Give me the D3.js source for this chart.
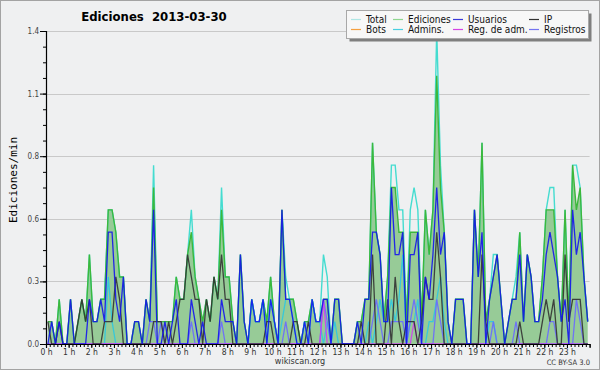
<!DOCTYPE html>
<html>
<head>
<meta charset="utf-8">
<script src="https://cdn.jsdelivr.net/npm/d3@7"></script>
<style>
  body { margin: 0; background: #fff; }
  svg { display: block; }
  text { font-family: "DejaVu Sans Condensed", "DejaVu Sans", sans-serif; font-stretch: condensed; }
</style>
</head>
<body>
<div id="chart"></div>
<script>
// edits per 10-minute slot (6 slots per hour, 0 h .. 23 h)
var ediciones = [
  1,1,0,2,0,0,  2,0,1,2,1,4,  1,1,2,2,6,6,  5,3,3,0,0,1,
  1,0,2,1,7,1,  1,1,1,1,3,2,  2,4,5,3,2,1,  2,1,3,2,6,3,
  3,1,0,4,1,0,  2,1,1,2,1,3,  1,0,6,2,2,2,  1,0,1,1,2,1,
  1,2,2,0,2,2,  0,0,0,0,1,1,  2,2,9,5,4,1,  3,7,7,5,5,1,
  5,5,5,1,6,4,  6,12,7,5,1,0, 2,2,2,0,0,6,  3,9,1,2,3,4,
  2,0,1,2,2,5,  1,4,3,1,1,3,  6,6,6,3,1,6,  1,8,6,7,3,1
];
var usuarios = [
  0,1,0,1,0,0,  2,0,0,0,0,2,  1,1,2,1,5,5,  2,1,3,0,0,1,
  1,0,2,1,6,0,  0,1,0,1,2,0,  0,0,2,1,0,1,  0,0,0,0,2,1,
  1,1,0,4,1,0,  2,1,1,2,0,2,  1,0,6,2,2,1,  0,0,1,0,2,1,
  1,2,2,0,2,2,  0,0,0,0,1,0,  2,2,5,5,4,1,  1,7,4,4,5,0,
  4,4,5,0,3,2,  4,7,4,5,1,0,  2,2,2,0,0,6,  3,5,0,2,3,4,
  2,0,1,2,2,4,  1,4,3,1,1,2,  4,5,4,3,1,2,  0,6,4,5,3,1
];
var ip = [
  1,0,0,1,0,0,  0,0,1,2,1,2,  0,0,0,1,1,1,  3,2,0,0,0,0,
  0,0,0,0,1,1,  1,0,1,0,1,2,  2,4,3,2,2,0,  2,1,3,2,4,2,
  2,0,0,0,0,0,  0,0,0,0,1,1,  0,0,0,0,0,1,  1,0,0,1,0,0,
  0,0,0,0,0,0,  0,0,0,0,0,1,  0,0,4,0,0,0,  2,0,3,1,0,1,
  1,1,0,1,3,2,  2,5,3,0,0,0,  0,0,0,0,0,0,  0,4,1,0,0,0,
  0,0,0,0,0,1,  0,0,0,0,0,1,  2,1,2,0,0,4,  1,2,2,2,0,0
];
var total = [
  1,1,0,2,0,0,  2,0,1,2,1,4,  1,1,2,2,6,6,  5,3,3,0,0,1,
  1,0,2,1,8,1,  1,1,1,1,3,2,  2,4,6,3,2,1,  2,1,3,2,7,3,
  3,1,0,4,1,0,  2,1,1,2,1,3,  1,0,6,3,2,2,  1,0,1,1,2,1,
  1,4,3,0,2,2,  0,0,0,0,1,1,  2,2,9,5,4,1,  3,8,8,6,6,1,
  6,7,6,1,6,4,  6,14,8,5,1,0, 2,2,2,0,0,6,  3,9,1,2,4,4,
  2,0,1,2,3,5,  1,4,3,1,1,3,  6,7,7,3,1,6,  1,8,8,7,3,1
];
var admins = [
  0,0,0,0,0,0,  0,0,0,0,0,0,  0,0,0,0,3,1,  0,0,0,0,0,0,
  0,0,0,0,0,0,  0,0,0,0,0,0,  0,0,0,0,0,0,  0,0,0,0,0,0,
  0,0,0,0,0,0,  2,1,1,2,0,2,  1,0,1,2,2,1,  0,0,1,0,2,1,
  1,0,1,0,1,0,  0,0,0,0,0,0,  0,1,0,1,2,1,  1,2,1,2,4,0,
  1,1,2,0,0,1,  1,2,3,1,0,0,  0,0,0,0,0,0,  0,0,0,1,1,0,
  0,0,0,0,0,0,  0,0,0,0,0,0,  0,0,0,0,0,0,  0,0,0,0,0,0
];
var regAdm = [
  0,0,0,0,0,0,  0,0,0,0,0,0,  0,0,0,0,0,0,  0,0,0,0,0,0,
  0,0,0,0,0,0,  0,0,0,0,0,0,  0,0,0,0,0,0,  0,0,0,0,0,0,
  0,0,0,0,0,0,  0,0,0,0,0,0,  0,0,0,0,0,0,  0,0,0,0,0,0,
  0,2,0,0,0,0,  0,0,0,0,0,0,  0,0,0,0,0,0,  0,0,0,0,0,0,
  0,1,0,0,0,0,  0,0,0,0,0,0,  0,0,0,0,0,0,  0,0,0,0,0,0,
  0,0,0,0,0,0,  0,0,0,0,0,0,  0,0,0,0,0,0,  0,0,0,0,0,0
];
var registros = [
  0,0,0,0,0,0,  0,0,0,0,0,0,  0,0,0,0,0,0,  0,0,0,0,0,0,
  0,0,0,1,1,0,  1,0,0,0,0,0,  0,0,1,0,0,0,  0,0,0,0,1,0,
  0,0,0,0,0,0,  0,0,0,0,0,0,  0,0,0,1,0,0,  0,0,0,0,0,0,
  0,2,1,0,0,0,  0,0,0,0,0,0,  0,0,1,2,1,0,  0,1,1,1,1,0,
  1,2,1,0,0,0,  0,2,1,0,0,0,  0,0,0,0,0,0,  0,0,0,0,1,0,
  0,0,0,0,1,0,  0,0,0,0,0,0,  0,1,1,0,0,0,  0,0,2,1,0,0
];
var hourLabels = d3.range(24).map(function(h){ return h + " h" });
var yTicks = [0, 0.28, 0.56, 0.84, 1.12, 1.4];

var legendItems = [
  {name: "Total", color: "#aee6e4"},
  {name: "Ediciones", color: "#8fd68f"},
  {name: "Usuarios", color: "#3a3ad8"},
  {name: "IP", color: "#333333"},
  {name: "Bots", color: "#f5a040"},
  {name: "Admins.", color: "#48cfe0"},
  {name: "Reg. de adm.", color: "#d444e4"},
  {name: "Registros", color: "#7474f0"}
];

var width = 600,
    height = 370;

var svg = d3.select("#chart")
  .append("svg")
  .attr("width", width)
  .attr("height", height);

svg.append("rect")
  .attr("x", 0.5).attr("y", 0.5)
  .attr("width", width - 1).attr("height", height - 1)
  .attr("fill", "#eff0f1")
  .attr("stroke", "#a3a3a3");

var x = d3.scaleLinear().domain([0, 24]).range([46, 589.6]);
var y = d3.scaleLinear().domain([0, 1.4]).range([344, 31]);

// grid
svg.append("g").selectAll("line")
  .data(yTicks.slice(1))
  .enter().append("line")
  .attr("x1", x(0)).attr("x2", x(24))
  .attr("y1", function(d){ return Math.round(y(d)) + 0.5 })
  .attr("y2", function(d){ return Math.round(y(d)) + 0.5 })
  .attr("stroke", "#c9c9c9");

function px(d, i){ return x((i + 0.5) / 6) }
function py(d){ return y(d / 10) }

var line = d3.line().x(px).y(py);
var area = d3.area().x(px).y0(y(0)).y1(py);

var plot = svg.append("g");

plot.append("path")
  .attr("d", area(ediciones))
  .attr("fill", "#97cb97");

plot.append("path")
  .attr("d", line(total))
  .attr("fill", "none")
  .attr("stroke", "#44dcd0")
  .attr("stroke-width", 1.4);

plot.append("path")
  .attr("d", line(ediciones))
  .attr("fill", "none")
  .attr("stroke", "#3cb83c")
  .attr("stroke-width", 1.4);

var series = [
  {data: admins, color: "#2ec8e0"},
  {data: registros, color: "#6a6aff"},
  {data: regAdm, color: "#d040f0"},
  {data: ip, color: "#333333"},
  {data: usuarios, color: "#1414ee"}
];

plot.selectAll(".serie")
  .data(series)
  .enter().append("path")
  .attr("class", "serie")
  .attr("d", function(s){ return line(s.data) })
  .attr("fill", "none")
  .attr("stroke", function(s){ return s.color })
  .attr("stroke-width", 1.3)
  .attr("stroke-opacity", 0.9);

// axes
var yAxis = svg.append("g")
  .attr("transform", "translate(" + x(0) + ",0)")
  .call(d3.axisLeft(y).tickValues(yTicks).tickFormat(d3.format(".1f")).tickSize(6).tickPadding(1));
svg.append("g")
  .attr("transform", "translate(" + x(0) + ",0)")
  .call(d3.axisLeft(y).tickValues(d3.range(0, 1.41, 0.07)).tickFormat("").tickSize(3))
  .select(".domain").remove();

var xAxis = svg.append("g")
  .attr("transform", "translate(0," + y(0) + ")")
  .call(d3.axisBottom(x).tickValues(d3.range(24)).tickFormat(function(d){ return hourLabels[d] }).tickSize(4).tickPadding(1));
svg.append("g")
  .attr("transform", "translate(0," + y(0) + ")")
  .call(d3.axisBottom(x).tickValues(d3.range(0, 24.01, 1/6)).tickFormat("").tickSize(3))
  .select(".domain").remove();

svg.selectAll(".domain").attr("stroke", "#000").attr("stroke-width", 1.2);
svg.selectAll(".tick line").attr("stroke", "#000");
yAxis.selectAll("text").attr("font-size", 8).attr("fill", "#444");
xAxis.selectAll("text").attr("font-size", 8.5).attr("fill", "#333");

// titles
svg.append("text")
  .attr("x", 154).attr("y", 21)
  .attr("text-anchor", "middle")
  .attr("font-size", 13).attr("font-weight", "bold")
  .text("Ediciones  2013-03-30")
  .style("white-space", "pre");

svg.append("text")
  .attr("transform", "translate(17,180) rotate(-90)")
  .attr("text-anchor", "middle")
  .attr("font-size", 11)
  .style("font-family", "'DejaVu Sans Mono', monospace")
  .text("Ediciones/min");

svg.append("text")
  .attr("x", 300).attr("y", 364)
  .attr("text-anchor", "middle")
  .attr("font-size", 9).attr("fill", "#333")
  .text("wikiscan.org");

svg.append("text")
  .attr("x", 590).attr("y", 364.5)
  .attr("text-anchor", "end")
  .attr("font-size", 7.5).attr("fill", "#333")
  .text("CC BY-SA 3.0");

// legend
var legend = svg.append("g");
legend.append("rect")
  .attr("x", 349.5).attr("y", 13.5).attr("width", 242).attr("height", 28)
  .attr("fill", "#7f7f7f");
legend.append("rect")
  .attr("x", 346.5).attr("y", 10.5).attr("width", 242).attr("height", 28)
  .attr("fill", "#f7f7f7").attr("stroke", "#a8a8a8");

var colX = [351, 393, 453, 529];
var rowY = [19, 29];
var items = legend.selectAll(".item")
  .data(legendItems)
  .enter().append("g")
  .attr("class", "item")
  .attr("transform", function(d, i){ return "translate(" + colX[i % 4] + "," + rowY[Math.floor(i / 4)] + ")" });
items.append("line")
  .attr("x1", 0).attr("x2", 10).attr("y1", 0.5).attr("y2", 0.5)
  .attr("stroke", function(d){ return d.color })
  .attr("stroke-width", 1.2);
items.append("text")
  .attr("x", 15).attr("y", 3.7)
  .attr("font-size", 10).attr("fill", "#111")
  .text(function(d){ return d.name });
</script>
</body>
</html>
